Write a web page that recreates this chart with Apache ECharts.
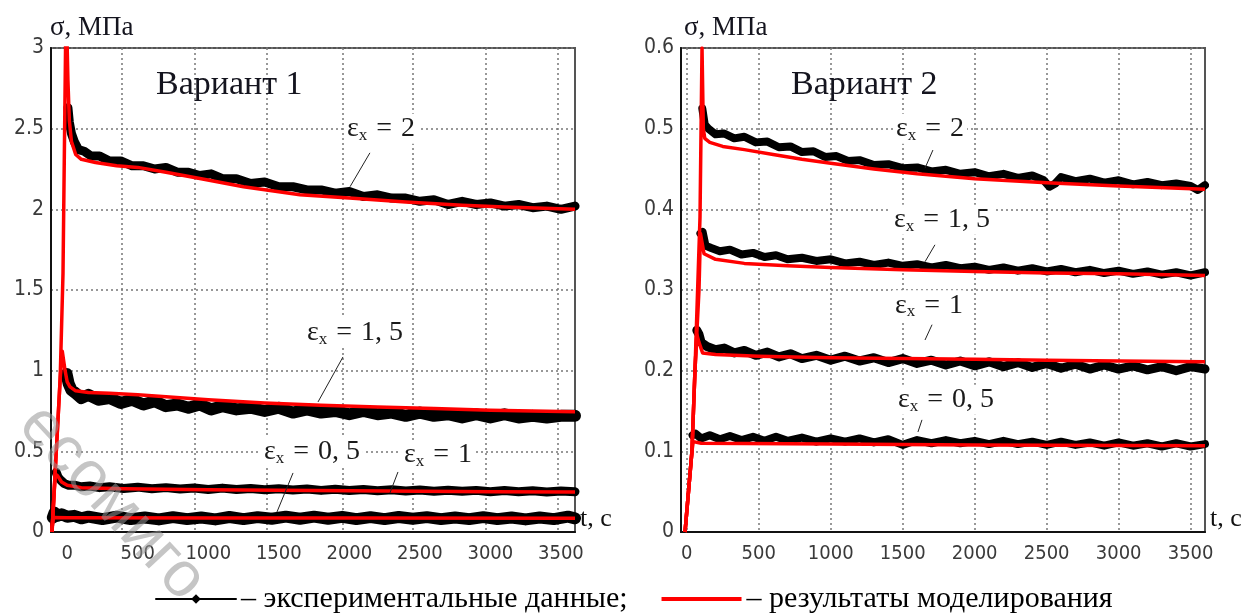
<!DOCTYPE html>
<html>
<head>
<meta charset="utf-8">
<script src="https://cdn.jsdelivr.net/npm/echarts@6/dist/echarts.min.js"></script>
<style>
html, body { margin: 0; background: #fff; }
#chart { width: 1253px; height: 613px; }
</style>
</head>
<body>
<div id="chart"></div>
<script>
// x tick labels (both panels) and the left panel's grid lines (they do not sit on the labels)
const xLabels = [0, 500, 1000, 1500, 2000, 2500, 3000, 3500]
const gridXLeft = [390, 905, 1415, 1950, 2450, 2970, 3480]

// Вариант 1 — experimental data [t, σ]
const expL2 = [[5,2.63],[15,2.54],[30,2.47],[50,2.42],[80,2.37],[120,2.36],[170,2.33],[230,2.33],[300,2.30],[380,2.30],[460,2.27],[540,2.27],[620,2.25],[700,2.26],[780,2.23],[860,2.23],[940,2.21],[1020,2.22],[1100,2.19],[1200,2.19],[1300,2.16],[1400,2.17],[1500,2.14],[1600,2.14],[1700,2.12],[1800,2.12],[1900,2.10],[2000,2.11],[2100,2.08],[2200,2.09],[2300,2.07],[2400,2.07],[2500,2.05],[2600,2.06],[2700,2.03],[2800,2.05],[2900,2.03],[3000,2.04],[3100,2.02],[3200,2.03],[3300,2.01],[3400,2.02],[3500,2.00],[3600,2.02]]
const expL15 = [[-5,0.98],[10,0.92],[30,0.88],[60,0.86],[100,0.83],[150,0.85],[220,0.82],[300,0.83],[380,0.80],[460,0.82],[540,0.79],[620,0.81],[700,0.78],[780,0.79],[860,0.77],[940,0.79],[1020,0.76],[1100,0.78],[1200,0.76],[1300,0.77],[1400,0.75],[1500,0.77],[1600,0.74],[1700,0.76],[1800,0.74],[1900,0.75],[2000,0.73],[2100,0.75],[2200,0.73],[2300,0.74],[2400,0.72],[2500,0.74],[2600,0.72],[2700,0.73],[2800,0.71],[2900,0.73],[3000,0.71],[3100,0.73],[3200,0.71],[3300,0.72],[3400,0.71],[3500,0.72],[3600,0.72]]
const expL1 = [[-78,0.37],[-65,0.34],[-45,0.32],[-20,0.30],[10,0.29],[50,0.29],[100,0.28],[160,0.285],[230,0.275],[300,0.28],[400,0.27],[500,0.278],[600,0.268],[700,0.275],[800,0.266],[900,0.273],[1000,0.264],[1100,0.272],[1200,0.263],[1300,0.27],[1400,0.262],[1500,0.268],[1600,0.26],[1700,0.267],[1800,0.258],[1900,0.265],[2000,0.257],[2100,0.263],[2200,0.256],[2300,0.262],[2400,0.254],[2500,0.26],[2600,0.253],[2700,0.259],[2800,0.252],[2900,0.258],[3000,0.25],[3100,0.257],[3200,0.25],[3300,0.255],[3400,0.248],[3500,0.254],[3600,0.25]]
const expL05 = [[-102,0.09],[-90,0.12],[-70,0.1],[-40,0.11],[0,0.095],[50,0.1],[100,0.085],[150,0.095],[250,0.08],[350,0.095],[450,0.08],[550,0.09],[650,0.078],[750,0.092],[850,0.08],[950,0.09],[1050,0.078],[1150,0.093],[1250,0.08],[1350,0.092],[1450,0.082],[1550,0.095],[1650,0.082],[1750,0.095],[1850,0.082],[1950,0.094],[2050,0.08],[2150,0.092],[2250,0.08],[2350,0.093],[2450,0.082],[2550,0.092],[2650,0.08],[2750,0.09],[2850,0.08],[2950,0.092],[3050,0.08],[3150,0.09],[3250,0.078],[3350,0.09],[3450,0.08],[3550,0.095],[3600,0.085]]

// Вариант 1 — model curves
const modL2 = [[-108,0],[-50,0.95],[-30,1.6],[-8,3.3],[5,2.8],[15,2.55],[30,2.42],[60,2.34],[100,2.31],[200,2.29],[350,2.27],[500,2.26],[700,2.23],[950,2.19],[1250,2.14],[1650,2.09],[2000,2.07],[2400,2.045],[2800,2.025],[3100,2.015],[3600,2.0]]
const modL15 = [[-108,0],[-50,0.95],[-35,1.12],[-15,1.0],[0,0.93],[20,0.9],[60,0.875],[150,0.865],[300,0.86],[500,0.85],[750,0.835],[1000,0.82],[1400,0.8],[1800,0.785],[2200,0.775],[2600,0.765],[3000,0.755],[3600,0.745]]
const modL1 = [[-108,0],[-85,0.36],[-70,0.35],[-40,0.31],[0,0.29],[100,0.275],[400,0.268],[1000,0.262],[2000,0.255],[3000,0.25],[3600,0.248]]
const modL05 = [[-108,0],[-100,0.09],[0,0.088],[1000,0.087],[2000,0.087],[3600,0.086]]

// Вариант 2 — experimental data
const expR2 = [[108,0.525],[125,0.505],[150,0.5],[200,0.493],[260,0.494],[330,0.488],[400,0.49],[480,0.483],[560,0.484],[640,0.477],[720,0.478],[800,0.471],[880,0.472],[960,0.465],[1040,0.466],[1120,0.46],[1200,0.461],[1300,0.455],[1400,0.456],[1500,0.451],[1600,0.452],[1700,0.447],[1800,0.449],[1900,0.444],[2000,0.446],[2100,0.441],[2200,0.444],[2300,0.439],[2400,0.442],[2480,0.436],[2520,0.428],[2560,0.432],[2600,0.44],[2700,0.435],[2800,0.438],[2900,0.433],[3000,0.436],[3100,0.431],[3200,0.434],[3300,0.43],[3400,0.432],[3500,0.429],[3550,0.424],[3600,0.43]]
const expR15 = [[95,0.37],[110,0.372],[130,0.355],[170,0.352],[230,0.348],[300,0.35],[380,0.344],[460,0.346],[540,0.341],[620,0.343],[700,0.338],[800,0.34],[900,0.336],[1000,0.338],[1100,0.333],[1200,0.335],[1300,0.331],[1400,0.334],[1500,0.33],[1600,0.332],[1700,0.328],[1800,0.331],[1900,0.327],[2000,0.329],[2100,0.325],[2200,0.328],[2300,0.324],[2400,0.327],[2500,0.323],[2600,0.326],[2700,0.322],[2800,0.325],[2900,0.321],[3000,0.324],[3100,0.32],[3200,0.323],[3300,0.319],[3400,0.322],[3500,0.318],[3600,0.322]]
const expR1 = [[70,0.25],[85,0.245],[100,0.235],[140,0.23],[200,0.226],[260,0.228],[330,0.222],[400,0.225],[480,0.219],[560,0.223],[640,0.217],[720,0.221],[800,0.215],[900,0.219],[1000,0.213],[1100,0.218],[1200,0.212],[1300,0.216],[1400,0.21],[1500,0.215],[1600,0.209],[1700,0.213],[1800,0.207],[1900,0.212],[2000,0.206],[2100,0.211],[2200,0.205],[2300,0.21],[2400,0.204],[2500,0.209],[2600,0.203],[2700,0.208],[2800,0.202],[2900,0.207],[3000,0.202],[3100,0.206],[3200,0.201],[3300,0.205],[3400,0.2],[3500,0.205],[3600,0.202]]
const expR05 = [[40,0.12],[60,0.122],[100,0.116],[160,0.12],[230,0.115],[300,0.119],[380,0.114],[460,0.118],[540,0.113],[620,0.118],[700,0.113],[800,0.117],[900,0.112],[1000,0.116],[1100,0.112],[1200,0.116],[1300,0.111],[1400,0.115],[1500,0.108],[1600,0.114],[1700,0.11],[1800,0.114],[1900,0.11],[2000,0.113],[2100,0.109],[2200,0.113],[2300,0.109],[2400,0.112],[2500,0.108],[2600,0.112],[2700,0.108],[2800,0.111],[2900,0.107],[3000,0.111],[3100,0.107],[3200,0.11],[3300,0.106],[3400,0.11],[3500,0.106],[3600,0.109]]

// Вариант 2 — model curves
const modR2 = [[-12,0],[36,0.1],[57,0.2],[92,0.39],[106,0.6],[115,0.5],[125,0.488],[160,0.483],[250,0.478],[400,0.474],[600,0.468],[800,0.462],[1000,0.457],[1300,0.45],[1600,0.444],[2000,0.438],[2500,0.433],[3000,0.429],[3600,0.425]]
const modR15 = [[-12,0],[36,0.1],[57,0.2],[85,0.3],[95,0.37],[105,0.36],[120,0.345],[200,0.338],[400,0.333],[700,0.33],[1000,0.328],[1500,0.325],[2000,0.323],[2500,0.321],[3000,0.32],[3600,0.318]]
const modR1 = [[-12,0],[36,0.1],[57,0.2],[70,0.245],[85,0.235],[110,0.222],[200,0.22],[500,0.218],[1000,0.216],[1500,0.215],[2000,0.214],[2500,0.213],[3000,0.212],[3600,0.211]]
const modR05 = [[-12,0],[36,0.1],[45,0.112],[100,0.11],[1000,0.109],[2000,0.108],[3600,0.107]]

// curve captions [εx value, t, σ] and their leader lines
const labelsL = [['2', 2225, 2.5], ['1, 5', 2040, 1.233], ['0, 5', 1735, 0.496], ['1', 2629, 0.477]]
const leadersL = [[[2146, 2.35], [2005, 2.14]], [[1955, 1.085], [1778, 0.806]], [[1601, 0.366], [1487, 0.124]], [[2345, 0.372], [2288, 0.242]]]
const labelsR = [['2', 1690, 0.5], ['1, 5', 1773, 0.387], ['1', 1683, 0.281], ['0, 5', 1801, 0.164]]
const leadersR = [[[1710, 0.4735], [1655, 0.451]], [[1724, 0.356], [1655, 0.335]], [[1704, 0.257], [1655, 0.238]], [[1634, 0.139], [1606, 0.124]]]

const serif = "'Liberation Serif', 'Times New Roman', serif"
const sans = "'DejaVu Sans Condensed', 'Liberation Sans Narrow', 'Liberation Sans', sans-serif"
const textDark = '#14141e'

const gridLine = { show: true, lineStyle: { type: [2, 3], color: '#777', width: 1.5 } }

const makeX = (idx, min, tickVals) => ({
  type: 'value',
  gridIndex: idx,
  min: min,
  max: 3600,
  name: 't, c',
  nameLocation: 'end',
  nameGap: 5,
  nameTextStyle: { fontFamily: serif, fontSize: 26, color: '#111', align: 'left', verticalAlign: 'bottom' },
  axisLine: { onZero: false, lineStyle: { color: '#111', width: 2 } },
  axisTick: { show: false, customValues: tickVals },
  axisLabel: { customValues: xLabels, margin: 12, fontFamily: sans, fontSize: 20, color: '#3a3a3a', formatter: v => String(v) },
  splitLine: gridLine
})

const makeY = (idx, max, interval) => ({
  type: 'value',
  gridIndex: idx,
  min: 0,
  max: max,
  interval: interval,
  axisLine: { show: true, onZero: false, lineStyle: { color: '#111', width: 2 } },
  axisTick: { show: false },
  axisLabel: { margin: 7, fontFamily: sans, fontSize: 21, color: '#3a3a3a' },
  splitLine: gridLine
})

const expSeries = (data, gi, w) => ({
  name: 'exp',
  type: 'line',
  xAxisIndex: gi,
  yAxisIndex: gi,
  data: data,
  symbol: 'diamond',
  showSymbol: false,
  lineStyle: { color: '#000', width: w, join: 'round', cap: 'round' },
  itemStyle: { color: '#000' },
  silent: true
})

const modSeries = (data, gi) => ({
  name: 'mod',
  type: 'line',
  xAxisIndex: gi,
  yAxisIndex: gi,
  data: data,
  symbol: 'none',
  lineStyle: { color: '#ff0000', width: 3.5, join: 'round' },
  itemStyle: { color: '#ff0000' },
  silent: true
})

// captions sit on the first model curve of each panel
const withNotes = (s, labels, leaders) => Object.assign(s, {
  markPoint: {
    symbol: 'rect',
    symbolSize: 1,
    itemStyle: { color: 'rgba(0,0,0,0)' },
    silent: true,
    label: {
      show: true,
      position: 'inside',
      backgroundColor: '#fff',
      padding: [0, 3],
      formatter: p => '{e|ε}{s|x}{q|=}{e|' + p.name + '}',
      rich: {
        e: { fontFamily: serif, fontSize: 28, color: '#1a1a1a' },
        q: { fontFamily: serif, fontSize: 28, color: '#1a1a1a', padding: [0, 9] },
        s: { fontFamily: serif, fontSize: 17, color: '#1a1a1a', padding: [13, 0, 0, 0] }
      }
    },
    data: labels.map(l => ({ name: l[0], coord: [l[1], l[2]] }))
  },
  markLine: {
    symbol: ['none', 'none'],
    silent: true,
    label: { show: false },
    lineStyle: { color: '#222', width: 1, type: 'solid' },
    data: leaders.map(l => [{ coord: l[0] }, { coord: l[1] }])
  }
})

const titleStyle = size => ({ fontFamily: serif, fontSize: size, fontWeight: 'normal', color: textDark })

const chart = echarts.init(document.getElementById('chart'))

chart.setOption({
  animation: false,
  backgroundColor: '#fff',
  title: [
    { text: 'Вариант 1', left: 156, top: 68, padding: 0, textStyle: titleStyle(34) },
    { text: 'Вариант 2', left: 791, top: 68, padding: 0, textStyle: titleStyle(34) },
    { text: 'σ, МПа', left: 50, top: 14, padding: 0, textStyle: titleStyle(27) },
    { text: 'σ, МПа', left: 684, top: 14, padding: 0, textStyle: titleStyle(27) }
  ],
  grid: [
    { left: 51, top: 48, width: 524, height: 484, show: true, borderColor: '#555', borderWidth: 2 },
    { left: 681, top: 48, width: 524, height: 484, show: true, borderColor: '#555', borderWidth: 2 }
  ],
  xAxis: [makeX(0, -115, gridXLeft), makeX(1, -40, xLabels)],
  yAxis: [makeY(0, 3, 0.5), makeY(1, 0.6, 0.1)],
  legend: {
    left: 150,
    top: 579,
    itemWidth: 80,
    itemHeight: 12,
    itemGap: 32,
    selectedMode: false,
    data: [
      { name: 'exp', itemStyle: { color: '#000' }, lineStyle: { width: 2, color: '#000' } },
      { name: 'mod', itemStyle: { color: 'rgba(0,0,0,0)', borderColor: 'rgba(0,0,0,0)' }, lineStyle: { width: 4, color: '#ff0000' } }
    ],
    formatter: n => n === 'exp' ? '– экспериментальные данные;' : '– результаты моделирования',
    textStyle: { fontFamily: serif, fontSize: 30, color: '#000' }
  },
  series: [
    expSeries(expL2, 0, 9),
    expSeries(expL15, 0, 12),
    expSeries(expL1, 0, 9),
    expSeries(expL05, 0, 12),
    expSeries(expR2, 1, 8),
    expSeries(expR15, 1, 8),
    expSeries(expR1, 1, 9),
    expSeries(expR05, 1, 8),
    withNotes(modSeries(modL2, 0), labelsL, leadersL),
    modSeries(modL15, 0),
    modSeries(modL1, 0),
    modSeries(modL05, 0),
    withNotes(modSeries(modR2, 1), labelsR, leadersR),
    modSeries(modR15, 1),
    modSeries(modR1, 1),
    modSeries(modR05, 1)
  ],
  graphic: [
    {
      type: 'text',
      x: 112,
      y: 503,
      rotation: -0.82,
      z: 100,
      silent: true,
      style: { text: 'есомиго', font: "64px 'Liberation Sans', sans-serif", fill: 'rgba(150,150,150,0.55)', align: 'center', verticalAlign: 'middle' }
    }
  ]
})
</script>
</body>
</html>
